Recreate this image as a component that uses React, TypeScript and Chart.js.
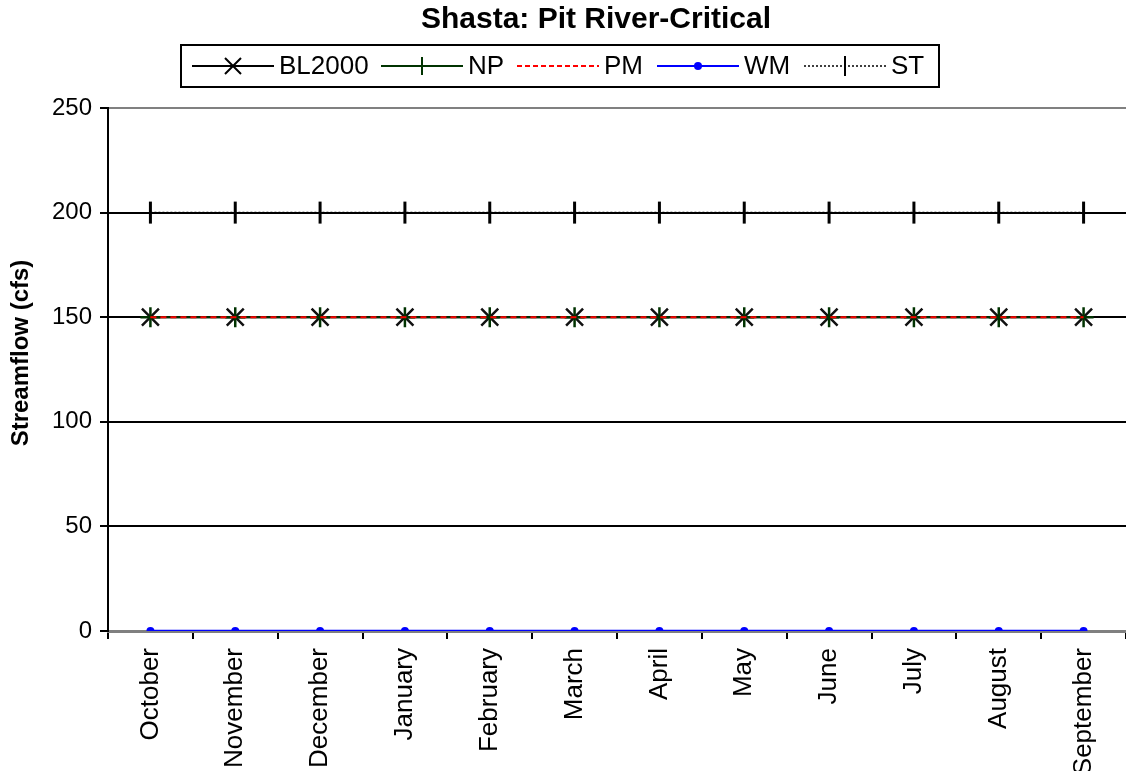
import React, { useEffect, useRef } from "react";
import { Chart, registerables } from "chart.js";

Chart.register(...registerables);

const months = [
  "October", "November", "December", "January", "February", "March",
  "April", "May", "June", "July", "August", "September",
];
const bl2000 = [150, 150, 150, 150, 150, 150, 150, 150, 150, 150, 150, 150];
const np = [150, 150, 150, 150, 150, 150, 150, 150, 150, 150, 150, 150];
const pm = [150, 150, 150, 150, 150, 150, 150, 150, 150, 150, 150, 150];
const wm = [0, 0, 0, 0, 0, 0, 0, 0, 0, 0, 0, 0];
const st = [200, 200, 200, 200, 200, 200, 200, 200, 200, 200, 200, 200];
const yTicks = [0, 50, 100, 150, 200, 250];

const titleText = "Shasta: Pit River-Critical";
const yTitle = "Streamflow (cfs)";
const FONT = "'Liberation Sans', Arial, sans-serif";

type LegendItem = {
  label: string;
  color: string;
  dash: number[];
  marker: "crossRot" | "cross" | "none" | "circle" | "vline";
  markerColor: string;
};

const legendItems: LegendItem[] = [
  { label: "BL2000", color: "#000000", dash: [], marker: "crossRot", markerColor: "#000000" },
  { label: "NP", color: "#003300", dash: [], marker: "cross", markerColor: "#003300" },
  { label: "PM", color: "#ff0000", dash: [5, 3], marker: "none", markerColor: "#ff0000" },
  { label: "WM", color: "#0000ff", dash: [], marker: "circle", markerColor: "#0000ff" },
  { label: "ST", color: "#000000", dash: [2, 2], marker: "vline", markerColor: "#000000" },
];
const legendLineStarts = [192, 381, 517, 657, 804];

const decorPlugin = {
  id: "decor",
  afterDraw(chart: any) {
    const ctx = chart.ctx as CanvasRenderingContext2D;
    ctx.save();
    // Title
    ctx.fillStyle = "#000";
    ctx.font = `bold 30px ${FONT}`;
    ctx.textAlign = "center";
    ctx.textBaseline = "middle";
    ctx.fillText(titleText, 596, 20);

    // Y title
    ctx.save();
    ctx.translate(21, 353);
    ctx.rotate(-Math.PI / 2);
    ctx.font = `bold 24px ${FONT}`;
    ctx.textAlign = "center";
    ctx.textBaseline = "middle";
    ctx.fillText(yTitle, 0, 0);
    ctx.restore();

    // Legend box
    const boxL = 181, boxT = 45, boxR = 939, boxB = 87;
    ctx.lineWidth = 2;
    ctx.strokeStyle = "#000";
    ctx.setLineDash([]);
    ctx.strokeRect(boxL, boxT, boxR - boxL, boxB - boxT);

    ctx.font = `26px ${FONT}`;
    ctx.textAlign = "left";
    ctx.textBaseline = "middle";
    const cy = (boxT + boxB) / 2;
    const lineLen = 82;
    legendItems.forEach((it, i) => {
      const x = legendLineStarts[i];
      ctx.strokeStyle = it.color;
      ctx.lineWidth = it.dash.length && it.dash[0] === 2 ? 1.5 : 2;
      ctx.setLineDash(it.dash);
      ctx.beginPath();
      ctx.moveTo(x, cy);
      ctx.lineTo(x + lineLen, cy);
      ctx.stroke();
      ctx.setLineDash([]);
      const mx = x + lineLen / 2;
      ctx.strokeStyle = it.markerColor;
      ctx.fillStyle = it.markerColor;
      ctx.lineWidth = 2;
      if (it.marker === "crossRot") {
        const r = 8;
        ctx.beginPath();
        ctx.moveTo(mx - r, cy - r);
        ctx.lineTo(mx + r, cy + r);
        ctx.moveTo(mx + r, cy - r);
        ctx.lineTo(mx - r, cy + r);
        ctx.stroke();
      } else if (it.marker === "cross") {
        const r = 9;
        ctx.beginPath();
        ctx.moveTo(mx, cy - r);
        ctx.lineTo(mx, cy + r);
        ctx.moveTo(mx - r, cy);
        ctx.lineTo(mx + r, cy);
        ctx.stroke();
      } else if (it.marker === "circle") {
        ctx.beginPath();
        ctx.arc(mx, cy, 4, 0, Math.PI * 2);
        ctx.fill();
      } else if (it.marker === "vline") {
        ctx.beginPath();
        ctx.moveTo(mx, cy - 10);
        ctx.lineTo(mx, cy + 10);
        ctx.stroke();
      }
      ctx.fillStyle = "#000";
      ctx.fillText(it.label, x + lineLen + 5, cy + 1);
    });
    ctx.restore();
  },
};

export default function App() {
  const ref = useRef<HTMLCanvasElement | null>(null);
  useEffect(() => {
    document.body.style.margin = "0";
    if (!ref.current) return;
    const chart = new Chart(ref.current, {
      type: "line",
      data: {
        labels: months,
        datasets: [
          {
            label: "BL2000",
            data: bl2000,
            borderColor: "#000000",
            borderWidth: 2,
            pointStyle: "crossRot",
            pointRadius: 12,
            pointBorderWidth: 2.5,
            pointBorderColor: "#111111",
            pointBackgroundColor: "#111111",
            order: 4,
          },
          {
            label: "NP",
            data: np,
            borderColor: "#003300",
            borderWidth: 2,
            pointStyle: "cross",
            pointRadius: 10,
            pointBorderWidth: 2.5,
            pointBorderColor: "#003300",
            pointBackgroundColor: "#003300",
            order: 3,
          },
          {
            label: "PM",
            data: pm,
            borderColor: "#ff0000",
            borderWidth: 2,
            borderDash: [6, 4],
            pointRadius: 0,
            order: 2,
          },
          {
            label: "WM",
            data: wm,
            borderColor: "#0000ff",
            borderWidth: 2.5,
            pointStyle: "circle",
            pointRadius: 4,
            pointBorderWidth: 0,
            pointBackgroundColor: "#0000ff",
            pointBorderColor: "#0000ff",
            order: 1,
          },
          {
            label: "ST",
            data: st,
            borderColor: "#000000",
            borderWidth: 1.5,
            borderDash: [2, 2],
            pointStyle: "line",
            rotation: 90,
            pointRadius: 11,
            pointBorderWidth: 3,
            pointBorderColor: "#000000",
            order: 5,
          } as any,
        ],
      },
      options: {
        responsive: false,
        animation: false,
        layout: { autoPadding: false, padding: { top: 108, left: 0, right: 0, bottom: 0 } },
        plugins: {
          legend: { display: false },
          title: { display: false },
          tooltip: { enabled: false },
        },
        scales: {
          x: {
            offset: true,
            grid: {
              offset: true,
              drawOnChartArea: false,
              drawTicks: true,
              tickLength: 8,
              tickColor: "#000",
              color: "#000",
              lineWidth: 2,
            },
            border: { color: "#808080", width: 3 },
            ticks: {
              autoSkip: false,
              minRotation: 90,
              maxRotation: 90,
              padding: 9,
              color: "#000",
              font: { family: FONT, size: 26 },
            },
            afterFit(scale: any) {
              scale.height = 140;
              scale.paddingLeft = 0;
              scale.paddingRight = 0;
            },
          },
          y: {
            min: 0,
            max: 250,
            afterBuildTicks(scale: any) {
              scale.ticks = yTicks.map((v) => ({ value: v }));
            },
            grid: {
              color: (c: any) =>
                c.tick && c.tick.value === 0
                  ? "rgba(0,0,0,0)"
                  : c.tick && c.tick.value === 250
                  ? "#808080"
                  : "#000000",
              lineWidth: 2,
              tickColor: "#000",
              tickLength: 8,
            },
            border: { color: "#000", width: 2 },
            ticks: {
              padding: 8,
              color: "#000",
              font: { family: FONT, size: 24 },
            },
            afterFit(scale: any) {
              scale.width = 108;
              scale.paddingTop = 0;
              scale.paddingBottom = 0;
            },
          },
        },
      },
      plugins: [decorPlugin],
    });
    return () => chart.destroy();
  }, []);
  return (
    <div style={{ position: "absolute", left: 0, top: 0, width: 1126, height: 771 }}>
      <canvas ref={ref} width={1126} height={771} />
    </div>
  );
}
